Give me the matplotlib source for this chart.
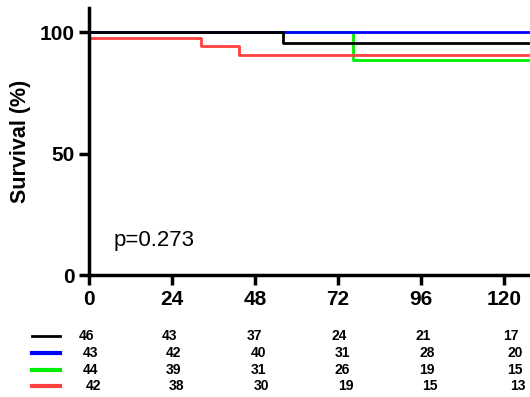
import matplotlib.pyplot as plt
from matplotlib.lines import Line2D

plt.rcParams['font.family'] = ['Liberation Sans', 'DejaVu Sans']

# step curves: times of change and survival values
black_t = [0, 56, 127]
black_s = [100, 95.5, 95.5]
blue_t = [0, 127]
blue_s = [100, 100]
green_t = [0, 76.5, 127]
green_s = [100, 88.6, 88.6]
red_t = [0, 32.5, 43.5, 127]
red_s = [97.7, 94.5, 90.8, 90.8]

colors = ['black', '#0000ff', '#00ee00', '#ff4040']

times = [0, 24, 48, 72, 96, 120]
at_risk = [
    [46, 43, 37, 24, 21, 17],
    [43, 42, 40, 31, 28, 20],
    [44, 39, 31, 26, 19, 15],
    [42, 38, 30, 19, 15, 13],
]

fig = plt.figure(figsize=(5.3, 3.97), dpi=100)
ax = fig.add_axes([0.168, 0.307, 0.828, 0.673])

curves = [(green_t, green_s), (blue_t, blue_s), (red_t, red_s), (black_t, black_s)]
ccols = [colors[2], colors[1], colors[3], colors[0]]
for (t, s), c in zip(curves, ccols):
    ax.step(t, s, where='post', color=c, lw=2, clip_on=False)

ax.set_xlim(0, 127)
ax.set_ylim(0, 110)
ax.set_xticks(times)
ax.set_yticks([0, 50, 100])
for side in ['top', 'right']:
    ax.spines[side].set_visible(False)
for side in ['left', 'bottom']:
    ax.spines[side].set_linewidth(2.5)
ax.tick_params(width=2.5, length=7, labelsize=15)
for lab in ax.get_xticklabels() + ax.get_yticklabels():
    lab.set_fontweight('bold')
ax.set_ylabel('Survival (%)', fontsize=15.5, fontweight='bold', labelpad=6)

ax.text(7, 12, 'p=0.273', fontsize=16)

# number at risk table
row_y = [-25.2, -32.2, -39.2, -45.5]
col_off = [0, 0, 0.6, 1, 1.4, 2.8]
row_off = [-0.6, 0.4, 0.4, 1.2]
for i, row in enumerate(at_risk):
    ln = Line2D([-16.5, -8.5], [row_y[i], row_y[i]], color=colors[i],
                lw=2 if i == 0 else 3, clip_on=False)
    ax.add_line(ln)
    for j, n in enumerate(row):
        ax.text(times[j] + col_off[j] + row_off[i], row_y[i], str(n),
                ha='center', va='center', fontsize=10, fontweight='bold',
                clip_on=False)

fig.savefig('out.png', dpi=100)
